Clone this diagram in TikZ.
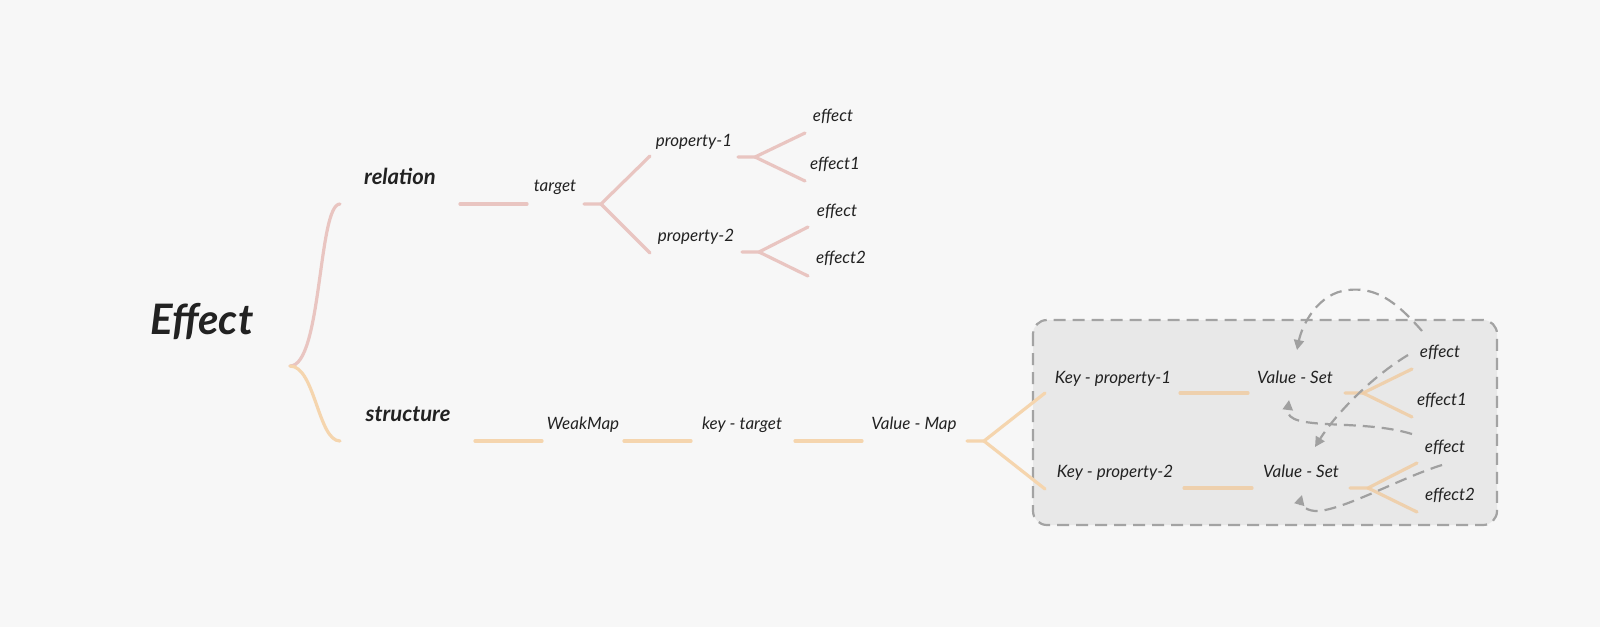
\documentclass[tikz,border=0pt]{standalone}
\usepackage{fontspec}
\setmainfont{Lato}
\usetikzlibrary{arrows.meta}
\definecolor{bgc}{HTML}{F7F7F7}
\definecolor{inkc}{HTML}{222222}
\definecolor{pinkc}{HTML}{E9C5C1}
\definecolor{tanc}{HTML}{F5D5AE}
\definecolor{boxfill}{HTML}{E8E8E8}
\definecolor{boxline}{HTML}{A3A3A3}
\definecolor{arrowc}{HTML}{A0A0A0}
\tikzset{
  lbl/.style={anchor=base, inner sep=0pt, text=inkc, font=\itshape\fontsize{8.5}{10}\selectfont},
  head/.style={anchor=base, inner sep=0pt, text=inkc, font=\bfseries\itshape\fontsize{11}{13}\selectfont},
  title/.style={anchor=base, inner sep=0pt, text=inkc, font=\bfseries\itshape\fontsize{21}{24}\selectfont},
  relline/.style={draw=pinkc, line width=1.6pt, line cap=round},
  strline/.style={draw=tanc, line width=1.6pt, line cap=round},
  inline/.style={draw=tanc!90!brown, line width=1.6pt, line cap=round, opacity=0.85},
  backarrow/.style={draw=arrowc, line width=1.1pt, dash pattern=on 6pt off 3.5pt,
    -{Triangle[length=5pt,width=5pt]}},
}
\begin{document}
\begin{tikzpicture}[x=0.5pt,y=-0.5pt]
  % canvas
  \fill[bgc] (0,0) rectangle (1600,627);
  \useasboundingbox (0,0) rectangle (1600,627);

  % grouping frame around the per-property sets
  \draw[boxline, fill=boxfill, line width=1.1pt, dash pattern=on 6pt off 3.5pt, rounded corners=7pt]
    (1033,320) rectangle (1497,525);

  % root and brace
  \node[title] (root) at (202,334) {Effect};
  \coordinate (tip) at (290,366);
  \coordinate (bt) at (340,204);
  \coordinate (bb) at (340,441);
  \draw[relline] (bt) .. controls (318,204) and (322,366) .. (tip);
  \draw[strline] (tip) .. controls (315,366) and (318,441) .. (bb);

  % ---- relation branch ----
  \node[head] (rel) at (400,184) {relation};
  \coordinate (r1a) at (460,204); \coordinate (r1b) at (527,204);
  \draw[relline] (r1a) -- (r1b);
  \node[lbl] (tgt) at (555,191) {target};
  \coordinate (t0) at (584,204); \coordinate (t1) at (601,204);
  \coordinate (t1u) at (650,156); \coordinate (t1d) at (650,253);
  \draw[relline] (t0) -- (t1) -- (t1u);
  \draw[relline] (t1) -- (t1d);

  \node[lbl] (p1) at (694,146) {property-1};
  \coordinate (p1a) at (738,157); \coordinate (p1b) at (755,157);
  \coordinate (p1u) at (805,133); \coordinate (p1d) at (805,181);
  \draw[relline] (p1a) -- (p1b) -- (p1u);
  \draw[relline] (p1b) -- (p1d);
  \node[lbl] (e11) at (833,121) {effect};
  \node[lbl] (e12) at (835,169) {effect1};

  \node[lbl] (p2) at (696,241) {property-2};
  \coordinate (p2a) at (742,252); \coordinate (p2b) at (759,252);
  \coordinate (p2u) at (808,227); \coordinate (p2d) at (808,276);
  \draw[relline] (p2a) -- (p2b) -- (p2u);
  \draw[relline] (p2b) -- (p2d);
  \node[lbl] (e21) at (837,216) {effect};
  \node[lbl] (e22) at (841,263) {effect2};

  % ---- structure branch ----
  \node[head] (str) at (408,421) {structure};
  \coordinate (s1a) at (475,441); \coordinate (s1b) at (542,441);
  \draw[strline] (s1a) -- (s1b);
  \node[lbl] (wm) at (583,429) {WeakMap};
  \coordinate (s2a) at (624,441); \coordinate (s2b) at (691,441);
  \draw[strline] (s2a) -- (s2b);
  \node[lbl] (kt) at (742,429) {key - target};
  \coordinate (s3a) at (795,441); \coordinate (s3b) at (862,441);
  \draw[strline] (s3a) -- (s3b);
  \node[lbl] (vm) at (914,429) {Value - Map};
  \coordinate (s4a) at (967,441); \coordinate (s4b) at (984,441);
  \coordinate (s4u) at (1045,393); \coordinate (s4d) at (1045,489);
  \draw[strline] (s4a) -- (s4b) -- (s4u);
  \draw[strline] (s4b) -- (s4d);

  % first property inside the frame
  \node[lbl] (k1) at (1113,383) {Key - property-1};
  \coordinate (k1a) at (1180,393); \coordinate (k1b) at (1248,393);
  \draw[inline] (k1a) -- (k1b);
  \node[lbl] (vs1) at (1295,383) {Value - Set};
  \coordinate (v1a) at (1345,393); \coordinate (v1b) at (1363,393);
  \coordinate (v1u) at (1412,369); \coordinate (v1d) at (1412,417);
  \draw[inline] (v1a) -- (v1b) -- (v1u);
  \draw[inline] (v1b) -- (v1d);
  \node[lbl] (f11) at (1440,357) {effect};
  \node[lbl] (f12) at (1442,405) {effect1};

  % second property inside the frame
  \node[lbl] (k2) at (1115,477) {Key - property-2};
  \coordinate (k2a) at (1184,488); \coordinate (k2b) at (1252,488);
  \draw[inline] (k2a) -- (k2b);
  \node[lbl] (vs2) at (1301,477) {Value - Set};
  \coordinate (v2a) at (1350,488); \coordinate (v2b) at (1368,488);
  \coordinate (v2u) at (1417,463); \coordinate (v2d) at (1417,512);
  \draw[inline] (v2a) -- (v2b) -- (v2u);
  \draw[inline] (v2b) -- (v2d);
  \node[lbl] (f21) at (1445,452) {effect};
  \node[lbl] (f22) at (1450,500) {effect2};

  % back references from each effect to the set that holds it
  \coordinate (a1s) at (1422,331); \coordinate (a1e) at (1297,350);
  \draw[backarrow] (a1s) .. controls (1395,300) and (1375,287) .. (1348,290)
                         .. controls (1318,293) and (1302,325) .. (a1e);
  \coordinate (a2s) at (1408,355); \coordinate (a2e) at (1315,447);
  \draw[backarrow] (a2s) .. controls (1370,378) and (1335,415) .. (a2e);
  \coordinate (a3s) at (1412,434); \coordinate (a3e) at (1289,400);
  \draw[backarrow] (a3s) .. controls (1360,418) and (1285,432) .. (a3e);
  \coordinate (a4s) at (1442,465); \coordinate (a4e) at (1302,495);
  \draw[backarrow] (a4s) .. controls (1400,478) and (1340,512) .. (1315,511)
                         .. controls (1303,510) and (1300,502) .. (a4e);
\end{tikzpicture}
\end{document}
